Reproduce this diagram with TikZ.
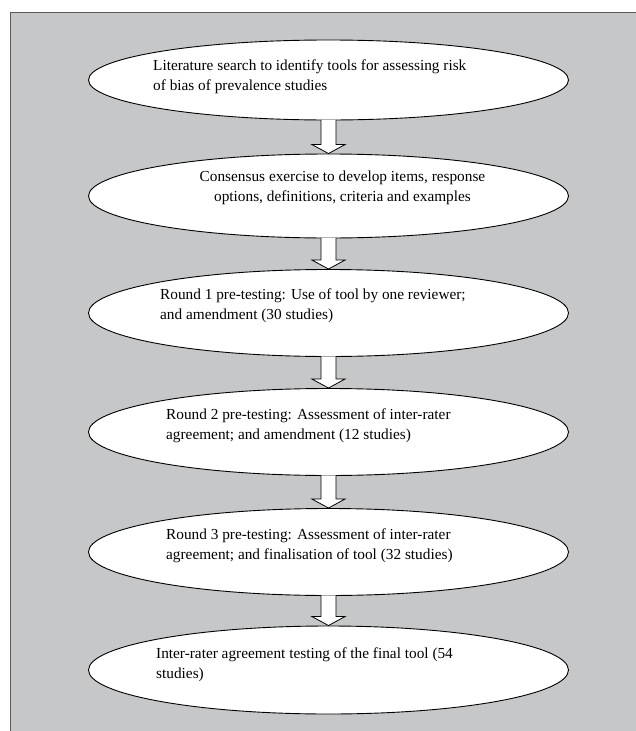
\documentclass[tikz,border=0pt]{standalone}
\usepackage{fontspec}
\setmainfont{Liberation Serif}
\usetikzlibrary{calc,shapes.geometric}
\definecolor{bg}{RGB}{198,199,201}
\definecolor{framec}{RGB}{90,90,90}
\begin{document}
\begin{tikzpicture}[x=1pt,y=-1pt,
  oval/.style={ellipse, draw=black, fill=white, line width=0.9pt, minimum width=480pt, minimum height=87pt, inner sep=0pt},
  txt/.style={font=\fontsize{15.3}{19.8}\selectfont, align=left, anchor=west, inner sep=0pt},
  flow/.style={draw=black, fill=white, line width=0.8pt, line join=miter}]
\useasboundingbox (0,0) rectangle (635,731);
\fill[bg] (10,12) rectangle (636,732);
\draw[framec, line width=1pt] (10,732) -- (10,12) -- (636,12);
% ellipse positions
\coordinate (c1) at (328.5,80);
\coordinate (c2) at (328.5,196);
\coordinate (c3) at (328.5,313);
\coordinate (c4) at (328.5,432);
\coordinate (c5) at (328.5,552);
\coordinate (c6) at (328.5,670);
\node[oval, minimum height=80pt] (e1) at (c1) {};
\node[oval, minimum height=84pt] (e2) at (c2) {};
\node[oval] (e3) at (c3) {};
\node[oval] (e4) at (c4) {};
\node[oval] (e5) at (c5) {};
\node[oval, minimum height=88pt] (e6) at (c6) {};
% arrows
\foreach \a/\b in {e1/e2,e2/e3,e3/e4,e4/e5,e5/e6}{
  \draw[flow] ($(\a.south)+(-7.5,-0.5)$) -- ($(\b.north)+(-7.5,-9)$) -- ($(\b.north)+(-16.5,-9)$)
    -- (\b.north) -- ($(\b.north)+(16.5,-9)$) -- ($(\b.north)+(7.5,-9)$) -- ($(\a.south)+(7.5,-0.5)$);
}
% texts
\node[txt] (t1) at (153,77) {Literature search to identify tools for assessing risk\\of bias of prevalence studies};
\node[txt, align=center, anchor=center] (t2) at (342.5,188) {Consensus exercise to develop items, response\\options, definitions, criteria and examples};
\node[txt] (t3) at (160,306) {Round 1 pre-testing: Use of tool by one reviewer;\\and amendment (30 studies)};
\node[txt] (t4) at (166,426) {Round 2 pre-testing: Assessment of inter-rater\\agreement; and amendment (12 studies)};
\node[txt] (t5) at (166,546) {Round 3 pre-testing: Assessment of inter-rater\\agreement; and finalisation of tool (32 studies)};
\node[txt] (t6) at (156,665) {Inter-rater agreement testing of the final tool (54\\studies)};
\end{tikzpicture}
\end{document}
